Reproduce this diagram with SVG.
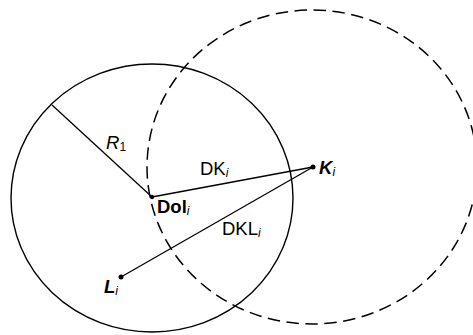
<svg xmlns="http://www.w3.org/2000/svg" width="473" height="335" viewBox="0 0 473 335">
<style>
.c{fill:none;stroke:#000;stroke-width:1.4}
.d{stroke-dasharray:12.5 6.5;stroke-width:1.5}
.l{fill:none;stroke:#000;stroke-width:1.3}
.t{font-family:"Liberation Sans",Arial,sans-serif;font-size:18.5px;fill:#000}
.b{font-weight:bold}
.i{font-style:italic}
.s{font-size:12px;font-style:italic;font-weight:normal}
.p{fill:#000}
</style>
<rect width="473" height="335" fill="#fff"/>
<g id="circle-solid"><ellipse class="c" cx="152" cy="198" rx="141" ry="134"/></g>
<g id="circle-dashed"><ellipse class="c d" cx="312" cy="167" rx="165" ry="157"/></g>
<g id="connectors">
<line class="l" x1="52" y1="105" x2="152" y2="197"/>
<line class="l" x1="152" y1="197" x2="313" y2="167"/>
<line class="l" x1="121" y1="277" x2="313" y2="167"/>
</g>
<g id="Doli"><circle class="p" cx="152" cy="197" r="2.2"/><text class="t b" x="157" y="212.5" font-size="18">Dol<tspan class="s" dy="2">i</tspan></text></g>
<g id="Ki"><circle class="p" cx="313" cy="167" r="2.5"/><text class="t b i" x="319" y="174">K<tspan class="s" dy="2">i</tspan></text></g>
<g id="Li"><circle class="p" cx="121" cy="277" r="2.5"/><text class="t b i" x="104" y="293">L<tspan class="s" dy="2">i</tspan></text></g>
<g id="R1"><text class="t" x="106" y="149"><tspan class="i">R</tspan><tspan font-size="12" dy="2">1</tspan></text></g>
<g id="DKi"><text class="t" x="200" y="175">DK<tspan class="s" dy="2">i</tspan></text></g>
<g id="DKLi"><text class="t" x="222" y="234.5">DKL<tspan class="s" dy="2">i</tspan></text></g>
</svg>
